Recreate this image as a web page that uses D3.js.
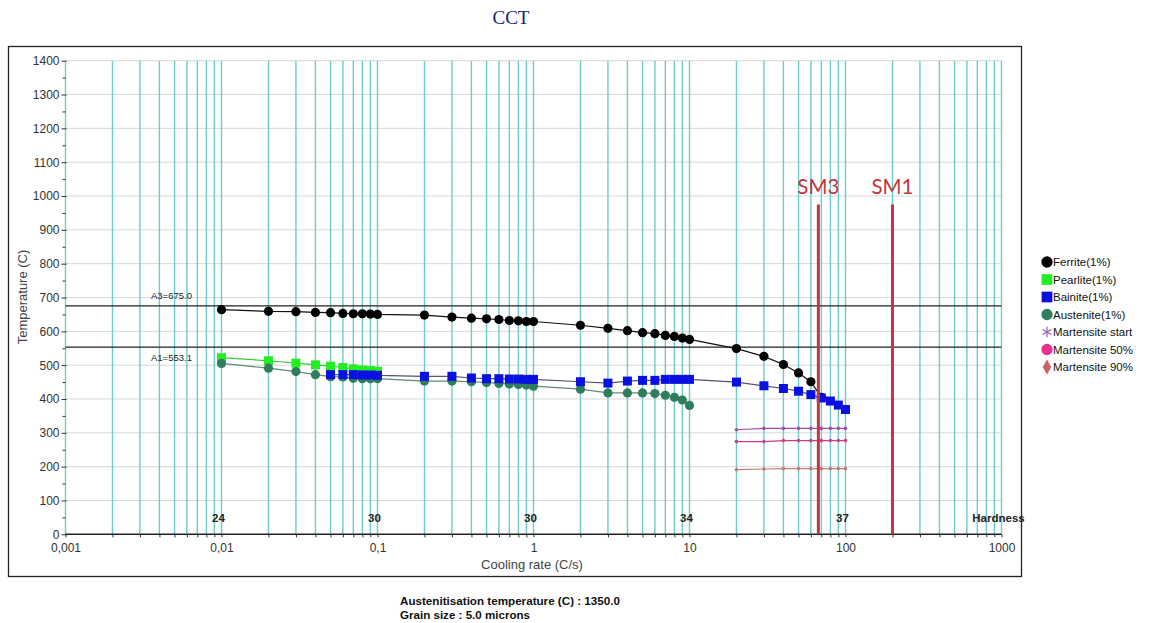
<!DOCTYPE html>
<html>
<head>
<meta charset="utf-8">
<script src="https://cdn.jsdelivr.net/npm/d3@7"></script>
<style>
  html, body { margin: 0; padding: 0; background: #fff; }
  svg { display: block; font-family: Arial, "Liberation Sans", sans-serif; }
</style>
</head>
<body>
<svg id="chart" width="1157" height="623"></svg>
<script>
// ---- CCT diagram data ----
const decadeLabels = ["0,001", "0,01", "0,1", "1", "10", "100", "1000"];
const decadeValues = [0.001, 0.01, 0.1, 1, 10, 100, 1000];
const tempTicks = [0, 100, 200, 300, 400, 500, 600, 700, 800, 900, 1000, 1100, 1200, 1300, 1400];

const ferriteRates = [0.01, 0.02, 0.03, 0.04, 0.05, 0.06, 0.07, 0.08, 0.09, 0.1,
  0.2, 0.3, 0.4, 0.5, 0.6, 0.7, 0.8, 0.9, 1,
  2, 3, 4, 5, 6, 7, 8, 9, 10,
  20, 30, 40, 50, 60, 70];
const ferriteTemps = [664, 659, 658, 656, 655, 653, 652, 652, 651, 650,
  648, 642, 639, 637, 635, 632, 631, 629, 629,
  618, 609, 602, 596, 593, 588, 585, 580, 576,
  549, 526, 502, 477, 451, 405];

const pearliteRates = [0.01, 0.02, 0.03, 0.04, 0.05, 0.06, 0.07, 0.08, 0.09, 0.1];
const pearliteTemps = [522, 513, 506, 501, 497, 493, 489, 486, 484, 482];

const bainiteRates = [0.05, 0.06, 0.07, 0.08, 0.09, 0.1,
  0.2, 0.3, 0.4, 0.5, 0.6, 0.7, 0.8, 0.9, 1,
  2, 3, 4, 5, 6, 7, 8, 9, 10,
  20, 30, 40, 50, 60, 70, 80, 90, 100];
const bainiteTemps = [472, 472, 472, 471, 471, 470,
  467, 467, 462, 460, 460, 459, 459, 458, 458,
  451, 447, 453, 455, 455, 458, 458, 458, 458,
  450, 439, 431, 423, 413, 403, 394, 382, 369];

const austeniteRates = [0.01, 0.02, 0.03, 0.04, 0.05, 0.06, 0.07, 0.08, 0.09, 0.1,
  0.2, 0.3, 0.4, 0.5, 0.6, 0.7, 0.8, 0.9, 1,
  2, 3, 4, 5, 6, 7, 8, 9, 10];
const austeniteTemps = [505, 491, 481, 472, 466, 465, 461, 460, 460, 460,
  453, 453, 451, 449, 446, 444, 443, 441, 438,
  429, 418, 418, 418, 416, 411, 405, 397, 381];

const martensiteRates = [20, 30, 40, 50, 60, 70, 80, 90, 100];
const msTemps = [309, 313, 313, 313, 313, 313, 313, 313, 313];
const m50Temps = [274, 274, 277, 277, 277, 277, 277, 277, 277];
const m90Temps = [191, 193, 194, 194, 194, 194, 194, 194, 194];

const criticalNames = ["A3", "A1"];
const criticalTemps = [675.0, 553.1];

const hardnessRates = [0.01, 0.1, 1, 10, 100, 1000];
const hardnessLabels = ["24", "30", "30", "34", "37", "Hardness"];

const smNames = ["SM3", "SM1"];
const smRates = [67, 200];

const legendNames = ["Ferrite(1%)", "Pearlite(1%)", "Bainite(1%)", "Austenite(1%)",
  "Martensite start", "Martensite 50%", "Martensite 90%"];

const footerLines = ["Austenitisation temperature (C) : 1350.0", "Grain size : 5.0 microns"];

// ---- layout ----
const svg = d3.select("#chart");
const x = d3.scaleLog().domain([0.001, 1000]).range([65.5, 1001.5]);
const y = d3.scaleLinear().domain([0, 1400]).range([534.3, 60.7]);

// every 1..9 x 10^n rate gets a vertical rule
const gridRates = [];
for (let e = -3; e <= 2; e++) {
  for (let k = 1; k <= 9; k++) gridRates.push(+(k * Math.pow(10, e)).toPrecision(3));
}
gridRates.push(1000);

// outer frame
svg.append("rect")
  .attr("x", 8.5).attr("y", 46.5).attr("width", 1013).attr("height", 530)
  .attr("fill", "none").attr("stroke", "#222").attr("stroke-width", 1.3);

// title
svg.append("text")
  .attr("x", 511).attr("y", 24).attr("text-anchor", "middle")
  .attr("font-family", "'Liberation Serif', 'DejaVu Serif', serif")
  .attr("font-size", 19).attr("fill", "#1e1e70").text("CCT");

// horizontal grid
svg.append("g").selectAll("line").data(tempTicks.filter(t => t > 0)).join("line")
  .attr("x1", x(0.001)).attr("x2", x(1000))
  .attr("y1", d => y(d)).attr("y2", d => y(d))
  .attr("stroke", "#d8d8d8").attr("stroke-width", 1);

// vertical rate rules
svg.append("g").selectAll("line").data(gridRates).join("line")
  .attr("x1", d => x(d)).attr("x2", d => x(d))
  .attr("y1", y(0)).attr("y2", y(1400))
  .attr("stroke", "#6ccccc").attr("stroke-width", 1.4);

// y axis
const yAxis = svg.append("g").attr("transform", `translate(${x(0.001)},0)`)
  .call(d3.axisLeft(y).tickValues(tempTicks).tickSize(4).tickPadding(2).tickFormat(d3.format("d")));
yAxis.select(".domain").remove();
yAxis.selectAll(".tick line").attr("stroke", "#333").attr("x2", -4).attr("x1", 1);
yAxis.selectAll(".tick text").attr("font-size", 12).attr("fill", "#333")
  .attr("font-family", "Arial, 'Liberation Sans', sans-serif");

const yMinor = svg.append("g").attr("transform", `translate(${x(0.001)},0)`)
  .call(d3.axisLeft(y).tickValues(d3.range(50, 1400, 100)).tickSize(3).tickFormat(""));
yMinor.select(".domain").remove();
yMinor.selectAll(".tick line").attr("stroke", "#333");

// x axis
const labelOf = new Map(decadeValues.map((v, i) => [v, decadeLabels[i]]));
const xAxis = svg.append("g").attr("transform", `translate(0,${y(0)})`)
  .call(d3.axisBottom(x).tickValues(gridRates).tickSize(3).tickPadding(6)
    .tickFormat(d => labelOf.get(d) || ""));
xAxis.select(".domain").attr("stroke", "#222").attr("stroke-width", 1.5)
  .attr("d", `M${x(0.001)},0H${x(1000)}`);
xAxis.selectAll(".tick line").attr("stroke", "#333");
xAxis.selectAll(".tick text").attr("font-size", 12).attr("fill", "#333")
  .attr("font-family", "Arial, 'Liberation Sans', sans-serif");

// axis titles
svg.append("text").attr("x", 532).attr("y", 569).attr("text-anchor", "middle")
  .attr("font-size", 13).attr("fill", "#444").text("Cooling rate (C/s)");
svg.append("text").attr("transform", "translate(27,297) rotate(-90)")
  .attr("text-anchor", "middle").attr("font-size", 13).attr("fill", "#444").text("Temperature (C)");

// critical temperatures A3 / A1
criticalTemps.forEach((t, i) => {
  svg.append("line").attr("x1", x(0.001)).attr("x2", x(1000))
    .attr("y1", y(t)).attr("y2", y(t)).attr("stroke", "#222").attr("stroke-width", 1.2);
  svg.append("text").attr("x", 151).attr("y", y(t) + (i === 0 ? -7 : 14))
    .attr("font-size", 9.5).attr("fill", "#222")
    .text(`${criticalNames[i]}=${t.toFixed(1)}`);
});

// hardness row
svg.append("g").selectAll("text").data(hardnessRates).join("text")
  .attr("x", d => x(d) - 3).attr("y", 522).attr("text-anchor", "middle")
  .attr("font-size", 11.5).attr("font-weight", "bold").attr("fill", "#222")
  .text((d, i) => hardnessLabels[i]);

// martensite lines
const mSeries = [
  { temps: msTemps, color: "#a050a8" },
  { temps: m50Temps, color: "#cc3d8e" },
  { temps: m90Temps, color: "#c47a7a" }
];
const line = d3.line().x(d => x(d[0])).y(d => y(d[1]));
mSeries.forEach(s => {
  const pts = martensiteRates.map((r, i) => [r, s.temps[i]]);
  svg.append("path").datum(pts).attr("d", line)
    .attr("fill", "none").attr("stroke", s.color).attr("stroke-width", 1.2);
  svg.append("g").selectAll("circle").data(pts).join("circle")
    .attr("cx", d => x(d[0])).attr("cy", d => y(d[1])).attr("r", 1.8).attr("fill", s.color);
});

// transformation curves
function drawCurve(rates, temps, lineColor, markColor, shape) {
  const pts = rates.map((r, i) => [r, temps[i]]);
  svg.append("path").datum(pts).attr("d", line)
    .attr("fill", "none").attr("stroke", lineColor).attr("stroke-width", 1.2);
  const g = svg.append("g");
  if (shape === "circle") {
    g.selectAll("circle").data(pts).join("circle")
      .attr("cx", d => x(d[0])).attr("cy", d => y(d[1])).attr("r", 4.6).attr("fill", markColor);
  } else {
    g.selectAll("rect").data(pts).join("rect")
      .attr("x", d => x(d[0]) - 4.5).attr("y", d => y(d[1]) - 4.5)
      .attr("width", 9).attr("height", 9).attr("fill", markColor);
  }
}
drawCurve(ferriteRates, ferriteTemps, "#111", "#000", "circle");
drawCurve(pearliteRates, pearliteTemps, "#39c839", "#22ee22", "square");
drawCurve(austeniteRates, austeniteTemps, "#5f8a74", "#2f7d5c", "circle");
drawCurve(bainiteRates, bainiteTemps, "#55556e", "#0a10e0", "square");

// critical cooling rates SM3 / SM1
smRates.forEach((r, i) => {
  svg.append("line").attr("x1", x(r)).attr("x2", x(r))
    .attr("y1", y(975)).attr("y2", y(0))
    .attr("stroke", "#c3363a").attr("stroke-width", 3);
  svg.append("text").attr("x", x(r)).attr("y", 194).attr("text-anchor", "middle")
    .attr("font-family", "Lato, 'Open Sans', sans-serif")
    .attr("font-size", 20.5).attr("fill", "#c3363a").text(smNames[i]);
});

// legend
const legend = svg.append("g");
const legendColors = ["#000", "#22ee22", "#0a10e0", "#2f7d5c", "#9a60b8", "#e8318f", "#c86464"];
const legendShapes = [d3.symbolCircle, d3.symbolSquare, d3.symbolSquare, d3.symbolCircle,
  d3.symbolAsterisk, d3.symbolCircle, d3.symbolDiamond];
const legendSizes = [100, 115, 115, 100, 75, 100, 65];
legendNames.forEach((name, i) => {
  const ly = 262 + i * 17.5;
  const isStar = legendShapes[i] === d3.symbolAsterisk;
  legend.append("path")
    .attr("transform", `translate(1047,${ly})`)
    .attr("d", d3.symbol().type(legendShapes[i]).size(legendSizes[i])())
    .attr("fill", isStar ? "none" : legendColors[i])
    .attr("stroke", isStar ? legendColors[i] : "none").attr("stroke-width", 1.2);
  legend.append("text").attr("x", 1053).attr("y", ly + 4)
    .attr("font-size", 11.5).attr("fill", "#111").text(name);
});

// footer notes
const footerWidths = [220, 130];
footerLines.forEach((t, i) => {
  svg.append("text").attr("x", 400).attr("y", 604.5 + i * 14.5)
    .attr("font-size", 11).attr("font-weight", "bold").attr("fill", "#111")
    .attr("textLength", footerWidths[i]).attr("lengthAdjust", "spacingAndGlyphs")
    .text(t);
});
</script>
</body>
</html>
